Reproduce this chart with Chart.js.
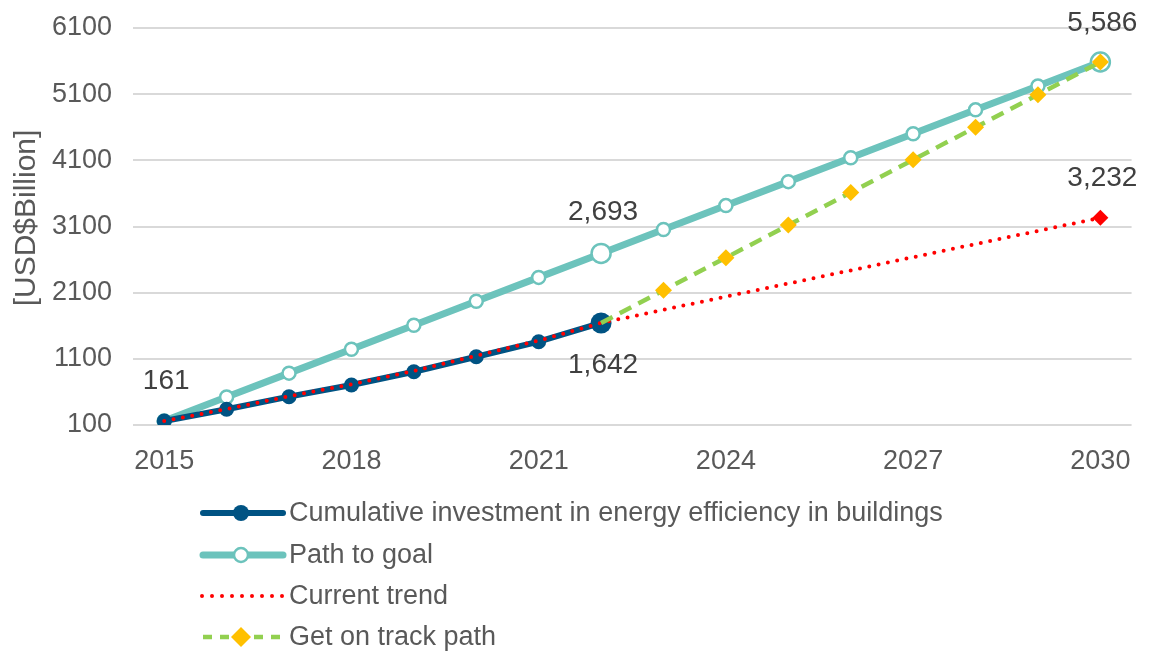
<!DOCTYPE html>
<html>
<head>
<meta charset="utf-8">
<script src="https://cdn.jsdelivr.net/npm/chart.js@4.4.1/dist/chart.umd.min.js"></script>
<style>
html,body{margin:0;padding:0;background:#ffffff;}
#wrap{width:1151px;height:652px;position:relative;}
</style>
</head>
<body>
<div id="wrap"><canvas id="c" width="1151" height="652"></canvas></div>
<script>
// ---- data ----
const years = ['2015','2016','2017','2018','2019','2020','2021','2022','2023','2024','2025','2026','2027','2028','2029','2030'];
const xTickLabels = ['2015','2018','2021','2024','2027','2030'];
const yTickValues = [100,1100,2100,3100,4100,5100,6100];
const cumulative = [161,337,528,705,905,1132,1359,1642,null,null,null,null,null,null,null,null];
const pathToGoal = [161,523,884,1246,1608,1969,2331,2693,3054,3416,3778,4139,4501,4863,5224,5586];
const currentTrend = [161,340,535,715,918,1145,1375,1642,1841,2040,2238,2437,2636,2835,3033,3232];
const getOnTrack = [null,null,null,null,null,null,null,1642,2135,2628,3121,3614,4107,4600,5093,5586];
const seriesNames = ['Cumulative investment in energy efficiency in buildings','Path to goal','Current trend','Get on track path'];
const yTitle = '[USD$Billion]';

const FONT = '"Liberation Sans", Arial, sans-serif';
const C_BLUE = '#005383';
const C_TEAL = '#6CC3BC';
const C_RED = '#FF0000';
const C_GREEN = '#92D050';
const C_YEL = '#FFC000';

const bigIdx = 7;
const lastIdx = 15;

const labelsPlugin = {
  id: 'extras',
  afterDatasetsDraw(chart) {
    const ctx = chart.ctx;
    ctx.save();
    ctx.font = '28px ' + FONT;
    ctx.fillStyle = '#404040';
    ctx.textAlign = 'center';
    ctx.textBaseline = 'middle';
    const fmt = v => v.toLocaleString('en-US');
    const put = (dsIndex, i, dy) => {
      const el = chart.getDatasetMeta(dsIndex).data[i];
      const v = chart.data.datasets[dsIndex].data[i];
      ctx.fillText(fmt(v), el.x + 2, el.y + dy);
    };
    put(1, 0, -40);
    put(1, bigIdx, -41);
    put(0, bigIdx, 42);
    put(1, lastIdx, -39);
    put(2, lastIdx, -39);
    ctx.restore();
  },
  afterDraw(chart) {
    const ctx = chart.ctx;
    // y axis title
    ctx.save();
    ctx.translate(27, 218);
    ctx.rotate(-Math.PI / 2);
    ctx.font = '30px ' + FONT;
    ctx.fillStyle = '#595959';
    ctx.textAlign = 'center';
    ctx.textBaseline = 'middle';
    ctx.fillText(yTitle, 0, 0);
    ctx.restore();

    // legend
    const rows = [513, 555, 596, 637];
    const x0 = 200, x1 = 283, xm = 241, tx = 289;
    ctx.save();
    ctx.font = '27px ' + FONT;
    ctx.textBaseline = 'middle';
    ctx.textAlign = 'left';
    rows.forEach((y, i) => {
      const ds = chart.data.datasets[i];
      ctx.save();
      ctx.strokeStyle = ds.borderColor;
      ctx.lineWidth = ds.borderWidth;
      ctx.lineCap = i < 2 ? 'round' : (ds.borderCapStyle || 'butt');
      ctx.setLineDash(i === 2 ? [0, 10] : i === 3 ? [9, 8] : []);
      ctx.beginPath();
      ctx.moveTo(i === 2 ? x0 + 2 : x0 + 3, y);
      ctx.lineTo(x1, y);
      ctx.stroke();
      ctx.setLineDash([]);
      if (i === 0) {
        ctx.fillStyle = C_BLUE;
        ctx.beginPath(); ctx.arc(xm, y, 8, 0, Math.PI * 2); ctx.fill();
      } else if (i === 1) {
        ctx.fillStyle = '#fff'; ctx.strokeStyle = C_TEAL; ctx.lineWidth = 2.5;
        ctx.beginPath(); ctx.arc(xm, y, 7, 0, Math.PI * 2); ctx.fill(); ctx.stroke();
      } else if (i === 3) {
        ctx.fillStyle = C_YEL;
        ctx.beginPath();
        ctx.moveTo(xm, y - 10); ctx.lineTo(xm + 10, y); ctx.lineTo(xm, y + 10); ctx.lineTo(xm - 10, y);
        ctx.closePath(); ctx.fill();
      }
      ctx.restore();
      ctx.fillStyle = '#595959';
      ctx.fillText(seriesNames[i], tx, y + 1);
    });
    ctx.restore();
  }
};

const bluePointR = years.map((_, i) => i === bigIdx ? 10.5 : 7.5);
const tealPointR = years.map((_, i) => (i === bigIdx || i === lastIdx) ? 9.5 : 6.5);
const redPointR = years.map((_, i) => i === lastIdx ? 8 : 0);
const greenPointR = years.map((_, i) => i === bigIdx ? 0 : 8.5);

new Chart(document.getElementById('c'), {
  type: 'line',
  data: {
    labels: years,
    datasets: [
      {
        label: seriesNames[0], data: cumulative, order: 2,
        borderColor: C_BLUE, backgroundColor: C_BLUE, borderWidth: 6,
        pointRadius: bluePointR, pointBorderWidth: 0, pointBackgroundColor: C_BLUE,
        pointHoverRadius: bluePointR, spanGaps: false, tension: 0
      },
      {
        label: seriesNames[1], data: pathToGoal, order: 3,
        borderColor: C_TEAL, backgroundColor: '#ffffff', borderWidth: 7,
        pointRadius: tealPointR, pointBorderWidth: 2.5, pointBorderColor: C_TEAL, pointBackgroundColor: '#ffffff',
        pointHoverRadius: tealPointR, tension: 0
      },
      {
        label: seriesNames[2], data: currentTrend, order: 1,
        borderColor: C_RED, backgroundColor: C_RED, borderWidth: 4,
        borderDash: [0, 9.5], borderCapStyle: 'round',
        pointStyle: 'rectRot', pointRadius: redPointR, pointBorderWidth: 0, pointBackgroundColor: C_RED,
        pointHoverRadius: redPointR, tension: 0
      },
      {
        label: seriesNames[3], data: getOnTrack, order: 0,
        borderColor: C_GREEN, backgroundColor: C_YEL, borderWidth: 4.5,
        borderDash: [13, 8], borderCapStyle: 'butt',
        pointStyle: 'rectRot', pointRadius: greenPointR, pointBorderWidth: 0, pointBackgroundColor: C_YEL,
        pointHoverRadius: greenPointR, tension: 0
      }
    ]
  },
  options: {
    responsive: false,
    animation: false,
    events: [],
    layout: { padding: { top: 28, right: 19, bottom: 177, left: 0 } },
    plugins: { legend: { display: false }, tooltip: { enabled: false }, title: { display: false } },
    scales: {
      x: {
        type: 'category',
        offset: true,
        grid: { display: false, drawTicks: false },
        border: { display: false },
        afterFit(s) { s.height = 50; },
        ticks: {
          autoSkip: false, maxRotation: 0, padding: 20,
          color: '#595959', font: { family: FONT, size: 27 },
          callback(v, i) { const l = years[i]; return xTickLabels.includes(l) ? l : ''; }
        }
      },
      y: {
        min: 100, max: 6100,
        afterFit(s) { s.width = 133; s.paddingTop = 0; s.paddingBottom = 0; },
        afterBuildTicks(s) { s.ticks = yTickValues.map(v => ({ value: v })); },
        grid: { color: '#D9D9D9', lineWidth: 2, drawTicks: false },
        border: { display: false },
        ticks: {
          padding: 21, color: '#595959', font: { family: FONT, size: 27 },
          callback(v) { return String(v); }
        }
      }
    }
  },
  plugins: [labelsPlugin]
});
</script>
</body>
</html>
